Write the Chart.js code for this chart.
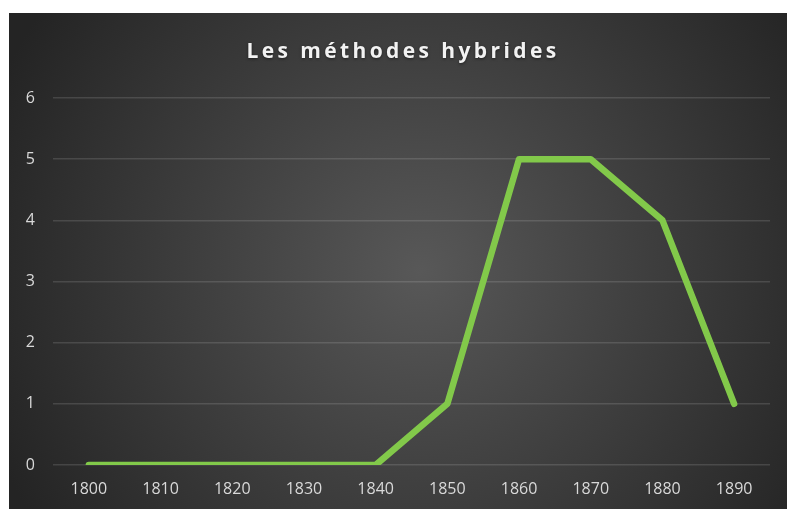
<!DOCTYPE html>
<html>
<head>
<meta charset="utf-8">
<script src="https://cdn.jsdelivr.net/npm/chart.js@4.4.0/dist/chart.umd.min.js"></script>
<style>
  html, body { margin: 0; padding: 0; background: #fff; }
  #wrap { position: absolute; left: 9px; top: 13px; width: 778px; height: 496px; }
</style>
</head>
<body>
<div id="wrap"><canvas id="chart" width="778" height="496"></canvas></div>
<script>
const chartTitle = 'Les méthodes hybrides';
const years = ['1800', '1810', '1820', '1830', '1840', '1850', '1860', '1870', '1880', '1890'];
const hybridCounts = [0, 0, 0, 0, 0, 1, 5, 5, 4, 1];
const yTicks = [0, 1, 2, 3, 4, 5, 6];

// dark radial background + spaced title
const backdrop = {
  id: 'backdrop',
  beforeDraw(chart) {
    const { ctx, width, height } = chart;
    ctx.save();
    const cx = width * 0.53, cy = height * 0.52;
    const g = ctx.createRadialGradient(cx, cy, 0, cx, cy, Math.hypot(width, height) / 2);
    g.addColorStop(0, '#585858');
    g.addColorStop(1, '#242424');
    ctx.fillStyle = g;
    ctx.fillRect(0, 0, width, height);
    ctx.restore();
  },
  afterDraw(chart) {
    const { ctx, width } = chart;
    ctx.save();
    ctx.font = 'bold 21px "Open Sans"';
    ctx.letterSpacing = '3.4px';
    ctx.fillStyle = '#f2f2f2';
    ctx.textAlign = 'center';
    ctx.textBaseline = 'middle';
    ctx.shadowColor = 'rgba(0,0,0,0.5)';
    ctx.shadowBlur = 3;
    ctx.shadowOffsetY = 1;
    ctx.fillText(chartTitle, width / 2 + 5, 39);
    ctx.restore();
  }
};

new Chart(document.getElementById('chart'), {
  type: 'line',
  data: {
    labels: years,
    datasets: [{
      data: hybridCounts,
      borderColor: '#82c94a',
      borderWidth: 6.5,
      borderCapStyle: 'round',
      borderJoinStyle: 'round',
      pointRadius: 0,
      tension: 0,
      fill: false
    }]
  },
  options: {
    responsive: false,
    animation: false,
    layout: { padding: { top: 85, right: 17, left: 0, bottom: 0 } },
    plugins: { legend: { display: false }, tooltip: { enabled: false } },
    scales: {
      x: {
        offset: true,
        grid: { display: false, drawTicks: false },
        border: { display: false },
        ticks: { color: '#d9d9d9', font: { family: 'Open Sans', size: 16 }, padding: 15, maxRotation: 0 },
        afterFit(s) { s.height = 44; }
      },
      y: {
        min: 0,
        max: 6,
        afterBuildTicks(s) { s.ticks = yTicks.map(v => ({ value: v })); },
        grid: { color: 'rgba(255,255,255,0.13)', lineWidth: 1.5, drawTicks: false },
        border: { display: false },
        ticks: { color: '#d9d9d9', font: { family: 'Open Sans', size: 16 }, padding: 18 },
        afterFit(s) { s.width = 44; }
      }
    }
  },
  plugins: [backdrop]
});
</script>
</body>
</html>
